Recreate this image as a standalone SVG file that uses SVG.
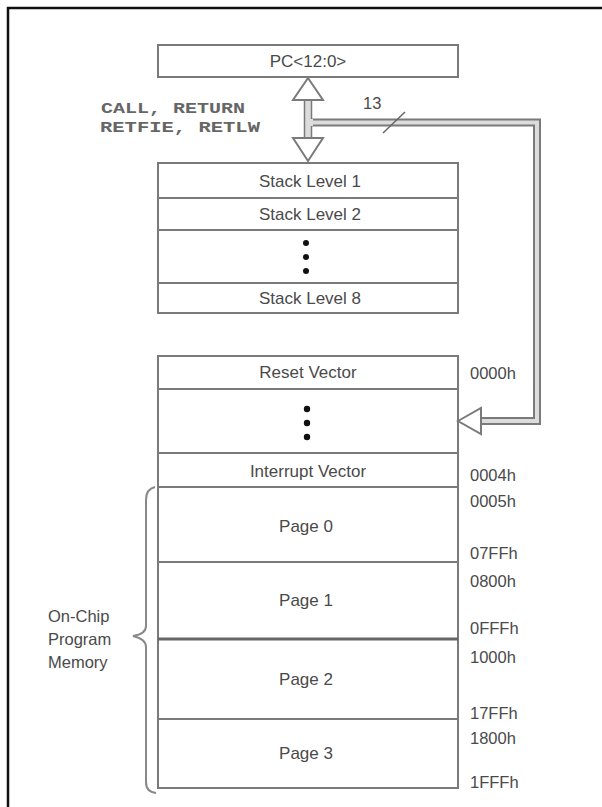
<svg xmlns="http://www.w3.org/2000/svg" width="602" height="807" viewBox="0 0 602 807">
<style>
.box{fill:#fff;stroke:#7a7a7a;stroke-width:2}
.div{stroke:#7a7a7a;stroke-width:2}
.t{font-family:"Liberation Sans",Arial,sans-serif;font-size:17px;fill:#4a4a4a;text-anchor:middle}
.a{font-family:"Liberation Sans",Arial,sans-serif;font-size:16.5px;fill:#4a4a4a}
.m{font-family:"Liberation Mono","Courier New",monospace;font-size:15px;fill:#666;font-weight:bold}
.dot{fill:#111}
</style>
<rect width="602" height="807" fill="#fff"/>
<path d="M8,807 V8 H602" fill="none" stroke="#111" stroke-width="2.5"/>

<g id="pc">
<rect class="box" x="158" y="45" width="300" height="32"/>
<text class="t" x="308" y="67">PC&lt;12:0&gt;</text>
</g>

<g id="instr-label">
<text class="m" x="101" y="113" textLength="144" lengthAdjust="spacingAndGlyphs">CALL, RETURN</text>
<text class="m" x="100" y="132" textLength="160" lengthAdjust="spacingAndGlyphs">RETFIE, RETLW</text>
</g>

<g id="stack">
<rect class="box" x="158" y="163" width="300" height="150"/>
<line class="div" x1="158" y1="198" x2="458" y2="198"/>
<line class="div" x1="158" y1="230" x2="458" y2="230"/>
<line class="div" x1="158" y1="283" x2="458" y2="283"/>
<text class="t" x="310" y="187">Stack Level 1</text>
<text class="t" x="310" y="220">Stack Level 2</text>
<circle class="dot" cx="306" cy="243" r="3"/>
<circle class="dot" cx="306" cy="257" r="3"/>
<circle class="dot" cx="306" cy="271" r="3"/>
<text class="t" x="310" y="304">Stack Level 8</text>
</g>

<g id="memory">
<rect class="box" x="158" y="356" width="300" height="432"/>
<line class="div" x1="158" y1="389" x2="458" y2="389"/>
<line class="div" x1="158" y1="453" x2="458" y2="453"/>
<line class="div" x1="158" y1="487" x2="458" y2="487"/>
<line class="div" x1="158" y1="562" x2="458" y2="562"/>
<line x1="158" y1="639" x2="458" y2="639" stroke="#666" stroke-width="3"/>
<line class="div" x1="158" y1="719" x2="458" y2="719"/>
<text class="t" x="308" y="378">Reset Vector</text>
<circle class="dot" cx="307" cy="409" r="3.2"/>
<circle class="dot" cx="307" cy="423" r="3.2"/>
<circle class="dot" cx="307" cy="437" r="3.2"/>
<text class="t" x="308" y="477">Interrupt Vector</text>
<text class="t" x="306" y="532">Page 0</text>
<text class="t" x="306" y="606">Page 1</text>
<text class="t" x="306" y="685">Page 2</text>
<text class="t" x="306" y="759">Page 3</text>
</g>

<g id="addresses">
<text class="a" x="470" y="379">0000h</text>
<text class="a" x="470" y="481">0004h</text>
<text class="a" x="470" y="507">0005h</text>
<text class="a" x="470" y="559">07FFh</text>
<text class="a" x="470" y="587">0800h</text>
<text class="a" x="470" y="634">0FFFh</text>
<text class="a" x="470" y="663">1000h</text>
<text class="a" x="470" y="719">17FFh</text>
<text class="a" x="470" y="744">1800h</text>
<text class="a" x="470" y="788">1FFFh</text>
</g>

<g id="brace-label">
<path d="M155,487 Q146,489 146,500 V626 Q146,634 133,636 Q146,639 146,647 V782 Q146,792 156,793" fill="none" stroke="#888" stroke-width="2"/>
<text class="a" x="48" y="622">On-Chip</text>
<text class="a" x="48" y="645">Program</text>
<text class="a" x="48" y="668">Memory</text>
</g>

<g id="connectors">
<path d="M311,122.5 H537 V421 H480" fill="none" stroke="#7a7a7a" stroke-width="8"/>
<path d="M311,122.5 H537 V421 H480" fill="none" stroke="#dcdcdc" stroke-width="4"/>
<path d="M458,421 L481,408 V434 Z" fill="#fff" stroke="#7a7a7a" stroke-width="2" stroke-linejoin="miter"/>
<rect x="304.5" y="99" width="7" height="40" fill="#dcdcdc" stroke="#7a7a7a" stroke-width="1.5"/>
<rect x="306" y="119" width="7" height="7" fill="#dcdcdc"/>
<path d="M308,78 L323,100 H293 Z" fill="#fff" stroke="#7a7a7a" stroke-width="2"/>
<path d="M308,161 L323,138 H293 Z" fill="#fff" stroke="#7a7a7a" stroke-width="2"/>
<line x1="383" y1="133" x2="405" y2="112" stroke="#666" stroke-width="1.5"/>
<text class="a" x="363" y="109">13</text>
</g>
</svg>
